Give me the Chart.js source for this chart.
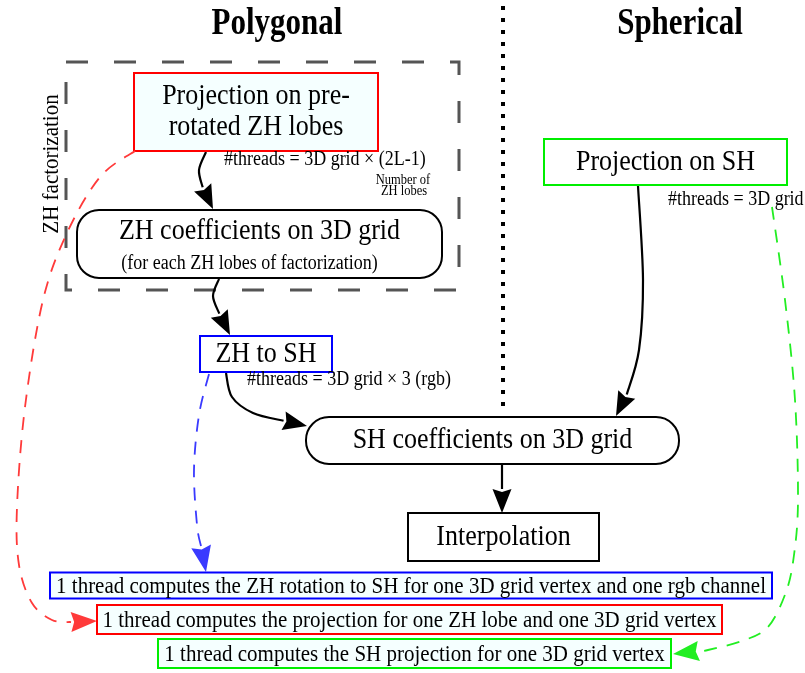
<!DOCTYPE html>
<html>
<head>
<meta charset="utf-8">
<script src="https://cdn.jsdelivr.net/npm/chart.js@4.4.1/dist/chart.umd.min.js"></script>
<style>
  html, body { margin: 0; padding: 0; background: #fff; }
  #diagram { display: block; }
</style>
</head>
<body>
<canvas id="diagram" width="805" height="673"></canvas>
<script>
// everything below is in diagram units: x 0..805 to the right, y 0..673 downwards
const titles = ['Polygonal', 'Spherical'];
const titleX = [277, 680];
const titleY = [24, 24];

const nodeLabels = [
    ['Projection on pre-', 'rotated ZH lobes'],
    ['ZH coefficients on 3D grid'],
    ['ZH to SH'],
    ['Projection on SH'],
    ['SH coefficients on 3D grid'],
    ['Interpolation']
];
const nodeSubLabels = ['', '(for each ZH lobes of factorization)', '', '', '', ''];
const nodeX = [256, 259.5, 266, 665.5, 492.5, 503.5];
const nodeY = [112, 244, 354, 162, 440.5, 537];

const threadLabels = ['#threads = 3D grid \u00d7 (2L-1)', '#threads = 3D grid \u00d7 3 (rgb)', '#threads = 3D grid'];
const threadX = [224, 247, 668];
const threadY = [160, 380, 200];

const noteLabels = [
    '1 thread computes the ZH rotation to SH for one 3D grid vertex and one rgb channel',
    '1 thread computes the projection for one ZH lobe and one 3D grid vertex',
    '1 thread computes the SH projection for one 3D grid vertex'
];
const noteX = [411, 409.5, 414.5];
const noteY = [585.5, 619.5, 653.5];

// solid arrows between nodes (last point is the arrow tip)
const edges = [
    [[206, 152], [199, 170], [203, 188], [213, 209]],
    [[219, 279], [213, 296], [218, 311], [230, 335]],
    [[226, 373], [232, 397], [253, 413], [280, 420], [307, 426]],
    [[638, 186], [643, 280], [639, 350], [628, 392], [616, 416]],
    [[502, 465], [502, 513]]
];
// dashed arrows to the thread notes
const links = [
    [[135, 151], [100, 177], [67, 233], [43, 300], [25, 407], [17, 507], [19, 565], [32, 603], [52, 620], [72, 622], [97, 621]],
    [[209, 374], [199, 415], [194, 470], [197, 525], [206, 572]],
    [[772, 207], [785, 300], [795, 400], [798, 500], [794, 555], [786, 592], [768, 627], [742, 641], [708, 650], [673, 654]]
];

// layout / style, kept apart from the data
const nodeStyle = [
    { w: 244, h: 78, r: 0, stroke: '#ff0000', fill: '#f5ffff', lines: [-15.5, 15.5] },
    { w: 365, h: 68, r: 22, stroke: '#000000', fill: '#ffffff', lines: [-13], sub: 20 },
    { w: 132, h: 36, r: 0, stroke: '#0000ff', fill: '#ffffff', lines: [0] },
    { w: 243, h: 46, r: 0, stroke: '#00ee00', fill: '#ffffff', lines: [0] },
    { w: 373, h: 47, r: 23, stroke: '#000000', fill: '#ffffff', lines: [0] },
    { w: 191, h: 48, r: 0, stroke: '#000000', fill: '#ffffff', lines: [0] }
];
const noteStyle = [
    { w: 722, h: 26, stroke: '#0000ff' },
    { w: 625, h: 29, stroke: '#ff0000' },
    { w: 513, h: 29, stroke: '#00ee00' }
];
const linkColors = ['#ff3a3a', '#3a3aff', '#22ee22'];
const serif = '"Liberation Serif", "DejaVu Serif", serif';
const stretch = 1.14;   // the reference lettering is a little taller than Times

function smoothPath(ctx, pts) {
    ctx.moveTo(pts[0][0], pts[0][1]);
    for (let i = 0; i < pts.length - 1; i++) {
        const p0 = pts[Math.max(i - 1, 0)], p1 = pts[i], p2 = pts[i + 1], p3 = pts[Math.min(i + 2, pts.length - 1)];
        ctx.bezierCurveTo(
            p1[0] + (p2[0] - p0[0]) / 6, p1[1] + (p2[1] - p0[1]) / 6,
            p2[0] - (p3[0] - p1[0]) / 6, p2[1] - (p3[1] - p1[1]) / 6,
            p2[0], p2[1]);
    }
}

function arrow(ctx, pts, color, dash, len, hw) {
    const tip = pts[pts.length - 1], prev = pts[pts.length - 2];
    let dx = tip[0] - prev[0], dy = tip[1] - prev[1];
    const d = Math.hypot(dx, dy); dx /= d; dy /= d;
    const base = [tip[0] - dx * len, tip[1] - dy * len];
    const line = pts.slice(0, -1);
    if (Math.hypot(line[line.length - 1][0] - base[0], line[line.length - 1][1] - base[1]) < 6) line.pop();
    line.push(base);
    ctx.save();
    ctx.strokeStyle = color;
    ctx.lineWidth = dash ? 1.8 : 2.2;
    ctx.setLineDash(dash || []);
    ctx.beginPath();
    smoothPath(ctx, line);
    ctx.stroke();
    ctx.setLineDash([]);
    ctx.fillStyle = color;
    ctx.beginPath();
    ctx.moveTo(tip[0], tip[1]);
    ctx.lineTo(base[0] - dy * hw, base[1] + dx * hw);
    ctx.lineTo(base[0] + dx * len * 0.12, base[1] + dy * len * 0.12);
    ctx.lineTo(base[0] + dy * hw, base[1] - dx * hw);
    ctx.closePath();
    ctx.fill();
    ctx.restore();
}

function roundBox(ctx, x, y, w, h, r) {
    ctx.beginPath();
    if (ctx.roundRect && r > 0) ctx.roundRect(x, y, w, h, r);
    else ctx.rect(x, y, w, h);
}

function text(ctx, t, x, y, k) {
    ctx.save();
    ctx.translate(x, y);
    ctx.scale(1, k || stretch);
    ctx.fillText(t, 0, 0);
    ctx.restore();
}

const diagramPlugin = {
    id: 'diagram',
    afterDraw(chart) {
        const ctx = chart.ctx;
        const sx = chart.scales.x, sy = chart.scales.y;
        const px = v => sx.getPixelForValue(v);
        const py = v => sy.getPixelForValue(v);
        const P = pts => pts.map(p => [px(p[0]), py(p[1])]);

        ctx.save();
        ctx.textAlign = 'center';
        ctx.textBaseline = 'middle';

        // titles
        ctx.fillStyle = '#000';
        ctx.font = 'bold 31px ' + serif;
        titles.forEach((t, i) => text(ctx, t, px(titleX[i]), py(titleY[i]), 1.2));

        // dotted divider
        ctx.strokeStyle = '#000';
        ctx.lineWidth = 4;
        ctx.setLineDash([4, 8]);
        ctx.beginPath();
        ctx.moveTo(px(503), py(6));
        ctx.lineTo(px(503), py(410));
        ctx.stroke();

        // factorization group
        ctx.strokeStyle = '#555';
        ctx.lineWidth = 3;
        ctx.setLineDash([22, 26]);
        ctx.strokeRect(px(66), py(62), px(459) - px(66), py(290) - py(62));
        ctx.setLineDash([]);
        ctx.save();
        ctx.translate(px(52), py(164));
        ctx.rotate(-Math.PI / 2);
        ctx.font = '21px ' + serif;
        ctx.scale(1, stretch);
        ctx.fillText('ZH factorization', 0, 0);
        ctx.restore();

        // solid arrows
        edges.forEach(e => arrow(ctx, P(e), '#000', null, 24, 9.5));

        // nodes
        nodeLabels.forEach((lines, i) => {
            const s = nodeStyle[i];
            const x = px(nodeX[i] - s.w / 2), y = py(nodeY[i] - s.h / 2);
            roundBox(ctx, x, y, s.w, s.h, s.r);
            ctx.fillStyle = s.fill;
            ctx.fill();
            ctx.strokeStyle = s.stroke;
            ctx.lineWidth = 2;
            ctx.stroke();
            ctx.fillStyle = '#000';
            ctx.font = '26px ' + serif;
            lines.forEach((l, k) => text(ctx, l, px(nodeX[i]), py(nodeY[i] + s.lines[k])));
            if (nodeSubLabels[i]) {
                ctx.font = '18px ' + serif;
                text(ctx, nodeSubLabels[i], px(nodeX[i] - 10), py(nodeY[i] + s.sub));
            }
        });

        // thread counts
        ctx.textAlign = 'left';
        ctx.font = '18px ' + serif;
        threadLabels.forEach((t, i) => text(ctx, t, px(threadX[i]), py(threadY[i])));
        ctx.textAlign = 'center';
        ctx.font = '12.5px ' + serif;
        text(ctx, 'Number of', px(403), py(180));
        text(ctx, 'ZH lobes', px(404), py(191));

        // dashed links
        links.forEach((l, i) => arrow(ctx, P(l), linkColors[i], [13, 10], 26, 10));

        // thread notes
        ctx.font = '21px ' + serif;
        noteLabels.forEach((t, i) => {
            const s = noteStyle[i];
            ctx.fillStyle = '#f5ffff';
            ctx.fillRect(px(noteX[i] - s.w / 2), py(noteY[i] - s.h / 2), s.w, s.h);
            ctx.strokeStyle = s.stroke;
            ctx.lineWidth = 2;
            ctx.strokeRect(px(noteX[i] - s.w / 2), py(noteY[i] - s.h / 2), s.w, s.h);
            ctx.fillStyle = '#000';
            text(ctx, t, px(noteX[i]), py(noteY[i] + 1));
        });
        ctx.restore();
    }
};

const ctx = document.getElementById('diagram').getContext('2d');
const chart = new Chart(ctx, {
    type: 'scatter',
    data: {
        datasets: [{
            label: 'nodes',
            data: nodeX.map((x, i) => ({ x: x, y: nodeY[i] })),
            pointRadius: 0
        }]
    },
    options: {
        responsive: false,
        animation: false,
        devicePixelRatio: 1,
        layout: { padding: 0 },
        scales: {
            x: { type: 'linear', min: 0, max: 805, display: false },
            y: { type: 'linear', min: 0, max: 673, reverse: true, display: false }
        },
        plugins: { legend: { display: false }, tooltip: { enabled: false } }
    },
    plugins: [diagramPlugin]
});
</script>
</body>
</html>
